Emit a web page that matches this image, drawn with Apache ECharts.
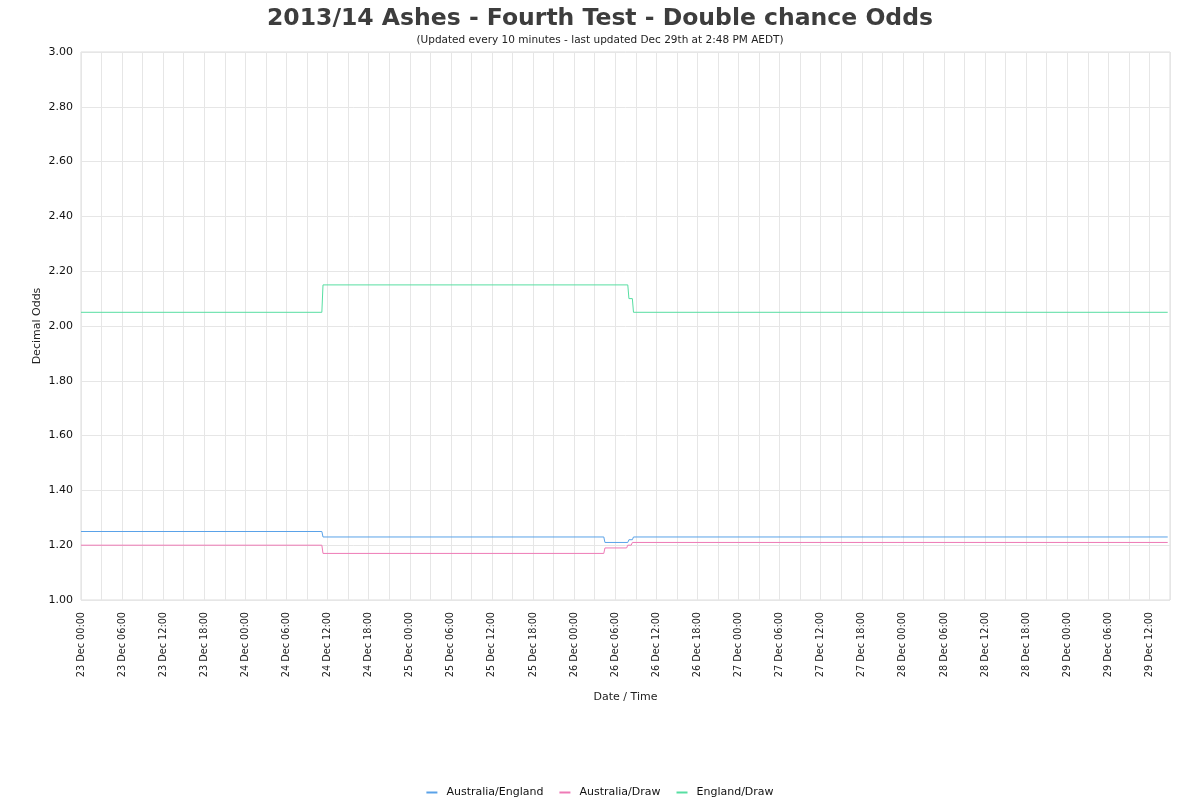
<!DOCTYPE html>
<html>
<head>
<meta charset="utf-8">
<script src="https://cdn.jsdelivr.net/npm/echarts@6/dist/echarts.min.js"></script>
<style>html,body{margin:0;padding:0;background:#fff}#c{width:1200px;height:800px}</style>
</head>
<body>
<div id="c"></div>
<script>
// Series data: [time "DD HH:MM" in Dec 2013, decimal odds] at each change point
const seriesNames = ['Australia/England', 'Australia/Draw', 'England/Draw'];
const australiaEngland = [
  ['23 00:00', 1.25], ['24 11:10', 1.25], ['24 11:20', 1.23],
  ['26 04:20', 1.23], ['26 04:30', 1.21], ['26 07:50', 1.21],
  ['26 08:00', 1.22], ['26 08:30', 1.22], ['26 08:40', 1.23],
  ['29 14:40', 1.23]
];
const australiaDraw = [
  ['23 00:00', 1.20], ['24 11:10', 1.20], ['24 11:20', 1.17],
  ['26 04:20', 1.17], ['26 04:30', 1.19], ['26 07:40', 1.19],
  ['26 07:50', 1.20], ['26 08:20', 1.20], ['26 08:30', 1.21],
  ['29 14:40', 1.21]
];
const englandDraw = [
  ['23 00:00', 2.05], ['24 11:10', 2.05], ['24 11:20', 2.15],
  ['26 07:50', 2.15], ['26 08:00', 2.10], ['26 08:30', 2.10],
  ['26 08:40', 2.05], ['29 14:40', 2.05]
];
const colors = ['#5AA2E8', '#EE7AB6', '#57DEA2'];
const startDay = 23;     // axis starts 23 Dec 00:00
const axisEndHours = 159; // 29 Dec 15:00

function toHours(s) {
  const [d, t] = s.split(' ');
  const [hh, mm] = t.split(':').map(Number);
  return (Number(d) - startDay) * 24 + hh + mm / 60;
}
function fmtLabel(h) {
  const day = startDay + Math.floor(h / 24);
  const hh = h % 24;
  return day + ' Dec ' + String(hh).padStart(2, '0') + ':00';
}
const all = [australiaEngland, australiaDraw, englandDraw];

const chart = echarts.init(document.getElementById('c'), null, {renderer: 'canvas'});
const font = 'DejaVu Sans';
chart.setOption({
  animation: false,
  backgroundColor: '#fff',
  color: colors,
  title: {
    text: '2013/14 Ashes - Fourth Test - Double chance Odds',
    subtext: '(Updated every 10 minutes - last updated Dec 29th at 2:48 PM AEDT)',
    left: 'center', top: 2, itemGap: 4,
    textStyle: {fontFamily: font, fontSize: 23.5, fontWeight: 'bold', color: '#3d3d3d'},
    subtextStyle: {fontFamily: font, fontSize: 10.5, color: '#222'}
  },
  legend: {
    bottom: 0, left: 'center', padding: [5, 5, 2, 5],
    icon: 'rect', itemWidth: 11, itemHeight: 2, itemGap: 16,
    textStyle: {fontFamily: font, fontSize: 11, color: '#111', padding: [0, 0, 0, 4]},
    data: seriesNames
  },
  grid: {left: 81, right: 30, top: 52, bottom: 200, show: true, borderColor: '#dcdcdc', borderWidth: 1},
  xAxis: {
    type: 'value', min: 0, max: axisEndHours, interval: 3,
    name: 'Date / Time', nameLocation: 'middle', nameGap: 92, nameMoveOverlap: false,
    nameTextStyle: {fontFamily: font, fontSize: 11, color: '#222'},
    axisLine: {show: false}, axisTick: {show: false},
    axisLabel: {
      rotate: 90, fontFamily: font, fontSize: 9.7, color: '#222', margin: 12,
      showMaxLabel: false,
      formatter: v => (v % 6 === 0 ? fmtLabel(v) : '')
    },
    splitLine: {show: true, lineStyle: {color: '#e6e6e6', width: 1}}
  },
  yAxis: {
    type: 'value', min: 1, max: 3, interval: 0.2,
    name: 'Decimal Odds', nameLocation: 'middle', nameGap: 38, nameRotate: 90, nameMoveOverlap: false,
    nameTextStyle: {fontFamily: font, fontSize: 11, color: '#222'},
    axisLine: {show: false}, axisTick: {show: false},
    axisLabel: {fontFamily: font, fontSize: 11, color: '#111', margin: 8, formatter: v => v.toFixed(2)},
    splitLine: {show: true, lineStyle: {color: '#e6e6e6', width: 1}}
  },
  series: seriesNames.map((n, i) => ({
    name: n, type: 'line', symbol: 'none', showSymbol: false,
    lineStyle: {width: 1, color: colors[i]},
    itemStyle: {color: colors[i]},
    data: all[i].map(p => [toHours(p[0]), p[1]])
  }))
});
</script>
</body>
</html>
